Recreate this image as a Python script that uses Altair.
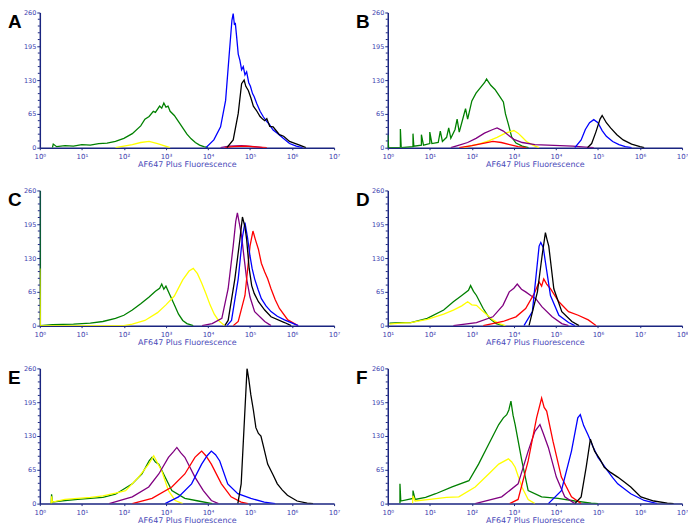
import altair as alt
import pandas as pd

# ---------------- colours ----------------
SERIES = ["green", "yellow", "purple", "red", "blue", "black"]
SERIES_COLORS = ["#008000", "#ffff00", "#800080", "#ff0000", "#0000ff", "#000000"]

# ---------------- data: (log10 fluorescence, count) ----------------
A_GREEN = [(0.3, 0), (0.32, 7), (0.4, 2), (0.6, 4), (0.8, 3), (1.0, 6), (1.2, 5), (1.4, 8), (1.6, 9),
           (1.8, 12), (2.0, 18), (2.2, 27), (2.4, 42), (2.5, 55), (2.6, 60), (2.7, 70), (2.75, 68),
           (2.85, 80), (2.9, 76), (2.95, 86), (3.0, 78), (3.05, 80), (3.1, 70), (3.2, 62), (3.3, 50),
           (3.4, 38), (3.5, 26), (3.6, 17), (3.7, 10), (3.8, 5), (3.9, 2), (4.0, 0)]
A_YELLOW = [(1.8, 0), (2.0, 3), (2.2, 6), (2.4, 10), (2.6, 12), (2.8, 8), (2.95, 4), (3.1, 0)]
A_PURPLE = [(4.3, 0), (4.5, 3), (4.8, 4), (5.1, 2), (5.3, 0)]
A_RED = [(4.4, 0), (4.6, 2), (4.9, 3), (5.2, 1), (5.4, 0)]
A_BLUE = [(3.95, 0), (4.14, 15), (4.3, 40), (4.42, 91), (4.5, 174), (4.57, 245), (4.6, 258),
          (4.63, 236), (4.65, 240), (4.68, 215), (4.72, 180), (4.76, 168), (4.8, 150), (4.84, 156),
          (4.88, 140), (4.92, 146), (4.97, 125), (5.01, 118), (5.06, 104), (5.1, 98), (5.16, 85),
          (5.24, 70), (5.32, 59), (5.4, 50), (5.45, 46), (5.55, 34), (5.65, 28), (5.79, 18),
          (5.94, 8), (6.1, 3), (6.25, 0)]
A_BLACK = [(4.45, 0), (4.6, 15), (4.72, 66), (4.8, 123), (4.86, 130), (4.9, 118), (4.96, 110),
           (5.02, 96), (5.08, 80), (5.15, 72), (5.24, 60), (5.3, 55), (5.35, 52), (5.4, 56),
           (5.47, 41), (5.55, 40), (5.6, 35), (5.7, 25), (5.8, 22), (5.94, 12), (6.05, 9),
           (6.18, 5), (6.33, 0)]

B_GREEN = [(0.0, 0), (0.0, 25), (0.02, 0), (0.3, 0), (0.3, 36), (0.32, 0), (0.6, 2), (0.6, 27),
           (0.62, 3), (0.8, 5), (0.8, 25), (0.85, 5), (1.0, 8), (1.0, 30), (1.05, 8), (1.2, 10),
           (1.25, 32), (1.3, 12), (1.4, 20), (1.45, 38), (1.5, 18), (1.6, 35), (1.65, 55), (1.7, 30),
           (1.8, 60), (1.85, 75), (1.9, 55), (2.0, 90), (2.1, 105), (2.2, 115), (2.3, 125),
           (2.35, 132), (2.45, 120), (2.55, 112), (2.65, 100), (2.75, 88), (2.8, 65), (2.87, 45),
           (2.95, 20), (3.05, 9), (3.2, 3), (3.35, 0)]
B_YELLOW = [(1.8, 0), (2.0, 4), (2.2, 8), (2.4, 13), (2.6, 20), (2.8, 28), (3.0, 33), (3.1, 28),
            (3.2, 20), (3.3, 12), (3.45, 5), (3.6, 0)]
B_PURPLE = [(1.5, 0), (1.7, 5), (1.9, 10), (2.1, 18), (2.3, 28), (2.5, 35), (2.6, 38), (2.75, 32),
            (2.9, 22), (3.0, 16), (3.2, 10), (3.5, 6), (3.8, 5), (4.1, 4), (4.4, 3), (4.7, 1), (4.9, 0)]
B_RED = [(1.7, 0), (2.0, 4), (2.3, 9), (2.5, 12), (2.7, 10), (2.9, 6), (3.1, 2), (3.3, 0)]
B_BLUE = [(4.45, 0), (4.6, 15), (4.7, 35), (4.8, 48), (4.9, 54), (5.0, 48), (5.1, 33), (5.2, 22),
          (5.35, 12), (5.5, 6), (5.65, 2), (5.8, 0)]
B_BLACK = [(4.75, 0), (4.85, 8), (4.95, 30), (5.05, 55), (5.1, 62), (5.2, 48), (5.3, 38),
           (5.45, 25), (5.6, 15), (5.8, 7), (6.0, 2), (6.1, 0)]

C_GREEN = [(0.0, 0), (0.0, 260), (0.01, 0), (0.3, 2), (0.8, 3), (1.2, 5), (1.5, 8), (1.8, 14),
           (2.0, 20), (2.2, 30), (2.4, 42), (2.6, 55), (2.75, 66), (2.85, 72), (2.9, 80), (2.95, 70),
           (3.0, 76), (3.1, 58), (3.2, 40), (3.3, 22), (3.4, 10), (3.5, 4), (3.65, 0)]
C_YELLOW = [(0.0, 0), (0.0, 110), (0.01, 0), (2.0, 0), (2.2, 3), (2.5, 10), (2.8, 25), (3.0, 40),
            (3.2, 57), (3.4, 88), (3.55, 105), (3.65, 110), (3.75, 100), (3.85, 82), (3.95, 62),
            (4.05, 40), (4.15, 22), (4.25, 10), (4.4, 0)]
C_PURPLE = [(3.86, 0), (4.1, 4), (4.33, 14), (4.48, 71), (4.6, 153), (4.66, 200), (4.7, 217),
            (4.75, 195), (4.8, 172), (4.86, 130), (4.92, 90), (5.0, 55), (5.11, 27), (5.35, 8),
            (5.5, 0)]
C_RED = [(4.6, 0), (4.72, 8), (4.88, 58), (5.0, 153), (5.07, 182), (5.13, 165), (5.2, 147),
         (5.27, 120), (5.35, 103), (5.42, 90), (5.5, 71), (5.6, 50), (5.7, 33), (5.9, 11), (6.14, 0)]
C_BLUE = [(4.45, 0), (4.56, 10), (4.72, 90), (4.82, 170), (4.88, 198), (4.94, 170), (5.0, 134),
          (5.05, 110), (5.11, 90), (5.19, 70), (5.27, 52), (5.38, 38), (5.5, 27), (5.65, 18),
          (5.82, 11), (6.06, 3), (6.15, 0)]
C_BLACK = [(4.4, 0), (4.48, 10), (4.64, 90), (4.76, 166), (4.82, 209), (4.88, 190), (4.92, 166),
           (4.98, 110), (5.04, 77), (5.1, 62), (5.2, 46), (5.35, 30), (5.5, 17), (5.82, 6), (5.98, 0)]

D_GREEN = [(1.04, 5), (1.3, 6), (1.55, 6), (1.94, 14), (2.33, 30), (2.56, 46), (2.76, 58),
           (2.92, 68), (2.97, 77), (3.04, 66), (3.11, 58), (3.27, 33), (3.42, 14), (3.58, 4), (3.75, 0)]
D_YELLOW = [(1.04, 3), (1.3, 5), (1.55, 6), (1.94, 12), (2.33, 22), (2.56, 30), (2.76, 38),
            (2.9, 46), (3.0, 40), (3.11, 39), (3.27, 27), (3.5, 11), (3.65, 4), (3.8, 0)]
D_PURPLE = [(2.56, 0), (3.11, 6), (3.5, 17), (3.74, 39), (3.89, 65), (4.0, 72), (4.08, 80),
            (4.18, 70), (4.28, 65), (4.4, 58), (4.52, 52), (4.67, 36), (4.91, 17), (5.14, 4), (5.3, 0)]
D_RED = [(3.27, 0), (3.74, 8), (4.05, 17), (4.28, 33), (4.48, 61), (4.6, 84), (4.66, 76),
         (4.71, 90), (4.78, 80), (4.87, 71), (5.07, 46), (5.3, 27), (5.53, 20), (5.77, 11), (5.96, 0)]
D_BLUE = [(4.24, 0), (4.44, 27), (4.52, 90), (4.6, 153), (4.64, 160), (4.7, 150), (4.75, 122),
          (4.87, 58), (5.07, 20), (5.3, 6), (5.45, 0)]
D_BLACK = [(4.36, 0), (4.56, 65), (4.67, 134), (4.75, 179), (4.79, 165), (4.83, 153), (4.95, 71),
           (5.14, 27), (5.38, 8), (5.55, 0)]

E_GREEN = [(0.27, 0), (0.28, 18), (0.3, 3), (0.6, 6), (0.9, 8), (1.2, 10), (1.5, 12), (1.8, 18),
           (2.2, 38), (2.43, 57), (2.6, 82), (2.67, 89), (2.75, 80), (2.83, 76), (2.98, 51),
           (3.14, 25), (3.45, 10), (3.77, 5), (4.1, 0)]
E_YELLOW = [(0.27, 0), (0.28, 14), (0.3, 3), (0.6, 8), (0.9, 10), (1.2, 12), (1.5, 15), (1.8, 20),
            (2.04, 25), (2.35, 51), (2.59, 76), (2.71, 92), (2.8, 78), (2.9, 63), (3.06, 25),
            (3.22, 6), (3.4, 0)]
E_PURPLE = [(1.65, 0), (2.2, 13), (2.59, 32), (2.83, 57), (3.06, 89), (3.18, 100), (3.26, 108),
            (3.35, 98), (3.45, 89), (3.69, 51), (3.89, 25), (4.08, 6), (4.25, 0)]
E_RED = [(2.2, 0), (2.67, 10), (3.14, 32), (3.45, 57), (3.69, 89), (3.78, 96), (3.85, 101),
         (3.95, 92), (4.08, 76), (4.32, 38), (4.55, 13), (4.79, 3), (4.95, 0)]
E_BLUE = [(2.98, 0), (3.3, 13), (3.61, 38), (3.85, 76), (3.98, 92), (4.08, 101), (4.18, 94),
          (4.28, 82), (4.47, 38), (4.71, 19), (5.02, 10), (5.34, 3), (5.6, 0)]
E_BLACK = [(4.71, 0), (4.79, 38), (4.87, 165), (4.93, 260), (4.97, 240), (5.02, 209), (5.08, 180),
           (5.14, 146), (5.2, 135), (5.26, 130), (5.32, 110), (5.42, 76), (5.55, 55), (5.65, 38),
           (5.77, 26), (5.89, 16), (6.12, 5), (6.36, 1), (6.5, 0)]

F_GREEN = [(0.29, 0), (0.29, 38), (0.31, 5), (0.6, 10), (0.6, 25), (0.65, 8), (0.9, 12), (1.14, 19),
           (1.53, 32), (1.93, 44), (2.16, 76), (2.4, 114), (2.64, 152), (2.75, 165), (2.83, 171),
           (2.88, 180), (2.93, 197), (2.98, 170), (3.03, 152), (3.19, 82), (3.34, 25), (3.66, 13),
           (4.05, 10), (4.45, 5), (4.84, 1), (5.0, 0)]
F_YELLOW = [(0.59, 0), (0.6, 15), (0.65, 5), (1.0, 8), (1.4, 12), (1.69, 13), (2.08, 32), (2.4, 57),
            (2.64, 76), (2.87, 86), (2.95, 80), (3.03, 70), (3.19, 32), (3.34, 8), (3.5, 0)]
F_PURPLE = [(2.08, 0), (2.71, 13), (3.1, 38), (3.34, 101), (3.5, 139), (3.62, 152), (3.7, 135),
            (3.82, 108), (4.01, 51), (4.21, 13), (4.45, 0)]
F_RED = [(2.9, 0), (3.1, 8), (3.34, 82), (3.54, 165), (3.66, 203), (3.72, 185), (3.78, 178),
         (3.93, 120), (4.13, 51), (4.37, 13), (4.6, 0)]
F_BLUE = [(3.82, 0), (4.13, 25), (4.37, 101), (4.52, 165), (4.58, 171), (4.66, 150), (4.76, 133),
          (4.88, 110), (5.0, 89), (5.1, 78), (5.23, 63), (5.35, 50), (5.47, 38), (5.78, 19),
          (6.1, 6), (6.41, 0)]
F_BLACK = [(4.45, 0), (4.6, 13), (4.72, 70), (4.82, 124), (4.87, 112), (4.92, 101), (5.05, 85),
           (5.15, 70), (5.3, 60), (5.47, 51), (5.62, 42), (5.78, 32), (6.02, 13), (6.33, 5),
           (6.65, 1), (6.8, 0)]

Y_TICKS = [0, 65, 130, 195, 260]
Y_MINOR = [13, 26, 39, 52, 78, 91, 104, 117, 143, 156, 169, 182, 208, 221, 234, 247]

PANELS = [
    ("A", [A_GREEN, A_YELLOW, A_PURPLE, A_RED, A_BLUE, A_BLACK], 0, 7),
    ("B", [B_GREEN, B_YELLOW, B_PURPLE, B_RED, B_BLUE, B_BLACK], 0, 7),
    ("C", [C_GREEN, C_YELLOW, C_PURPLE, C_RED, C_BLUE, C_BLACK], 0, 7),
    ("D", [D_GREEN, D_YELLOW, D_PURPLE, D_RED, D_BLUE, D_BLACK], 1, 8),
    ("E", [E_GREEN, E_YELLOW, E_PURPLE, E_RED, E_BLUE, E_BLACK], 0, 7),
    ("F", [F_GREEN, F_YELLOW, F_PURPLE, F_RED, F_BLUE, F_BLACK], 0, 7),
]

NAVY = "#1a2580"
LABEL = "#3c3cae"
TITLE = "#4848b8"
FONT = "DejaVu Sans"
W, H = 296, 136

SUP = "['\u2070','\u00b9','\u00b2','\u00b3','\u2074','\u2075','\u2076','\u2077','\u2078']"


def panel(letter, series_list, lo, hi):
    rows = []
    for name, pts in zip(SERIES, series_list):
        for i, (lx, c) in enumerate(pts):
            rows.append({"series": name, "i": i, "x": 10 ** lx, "count": c})
    df = pd.DataFrame(rows)
    xs = alt.Scale(type="log", domain=[10 ** lo, 10 ** hi], nice=False)
    ys = alt.Scale(domain=[0, 260], nice=False)
    yaxis = alt.Axis(
        values=Y_TICKS, title=None, labelFont=FONT, labelFontSize=6.5,
        labelColor=LABEL, domainColor=NAVY, domainWidth=1.5, tickColor=NAVY,
        tickSize=3, labelPadding=1, grid=False, labelFlush=False)
    lines = alt.Chart(df).mark_line(strokeWidth=1.3, clip=True).encode(
        x=alt.X("x:Q", scale=xs, axis=alt.Axis(
            values=[10 ** k for k in range(lo, hi + 1)],
            labelExpr="'10' + " + SUP + "[round(log(datum.value)/LN10)]",
            title="AF647 Plus Fluorescence", titleFont=FONT, titleFontSize=8,
            titleFontWeight="normal", titleColor=TITLE, titlePadding=1,
            labelFont=FONT, labelFontSize=7, labelColor=LABEL, labelPadding=3,
            domainColor=NAVY, domainWidth=1.5, tickColor=NAVY, tickSize=2,
            grid=False, labelFlush=False)),
        y=alt.Y("count:Q", scale=ys, axis=yaxis),
        color=alt.Color("series:N", scale=alt.Scale(domain=SERIES, range=SERIES_COLORS), legend=None),
        order=alt.Order("i:Q"),
    )
    minor = alt.Chart(pd.DataFrame({"count": Y_MINOR})).mark_rule(color=NAVY, strokeWidth=1).encode(
        y=alt.Y("count:Q", scale=ys, axis=yaxis), x=alt.value(-2), x2=alt.value(0))
    label = alt.Chart(pd.DataFrame({"t": [letter]})).mark_text(
        align="left", baseline="alphabetic", font="Liberation Sans", fontWeight="bold",
        fontSize=19, color="black").encode(text="t:N", x=alt.value(-32), y=alt.value(16))
    return alt.layer(lines, minor, label).properties(width=W, height=H)


charts = [panel(*p) for p in PANELS]
rows = [alt.hconcat(charts[i], charts[i + 1], spacing=16) for i in (0, 2, 4)]
chart = alt.vconcat(*rows, spacing=19).properties(padding=0).configure_view(stroke=None)

chart.save("out.html", embed_options={"renderer": "svg", "actions": False})
